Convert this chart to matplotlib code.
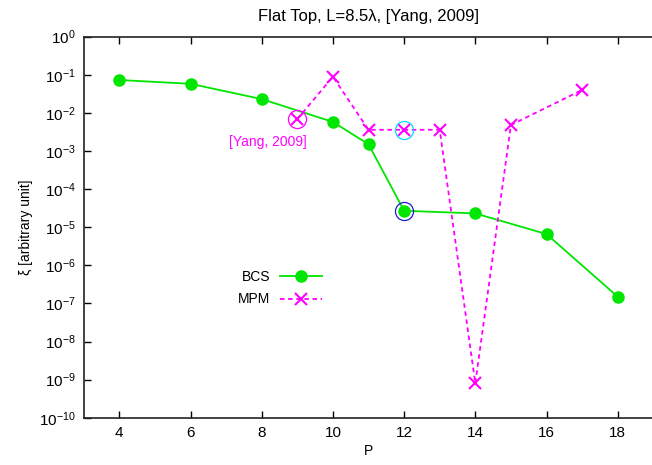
import matplotlib
matplotlib.use("Agg")
import matplotlib.pyplot as plt

plt.rcParams['font.family'] = ['Liberation Sans', 'DejaVu Sans']
plt.rcParams['mathtext.fontset'] = 'custom'
plt.rcParams['mathtext.rm'] = 'Liberation Sans'
plt.rcParams['mathtext.it'] = 'Liberation Sans'
plt.rcParams['font.size'] = 10

# BCS and MPM error versus P
bcs_p = [4, 6, 8, 10, 11, 12, 14, 16, 18]
bcs_xi = [0.073, 0.058, 0.023, 5.8e-3, 1.5e-3, 2.7e-5, 2.3e-5, 6.6e-6, 1.5e-7]

mpm_p = [9, 10, 11, 12, 13, 14, 15, 17]
mpm_xi = [6.9e-3, 0.089, 3.6e-3, 3.6e-3, 3.6e-3, 8.0e-10, 4.8e-3, 0.040]

# highlighted points
yang_p, yang_xi = 9, 6.9e-3
mpm_best_p, mpm_best_xi = 12, 3.6e-3
bcs_best_p, bcs_best_xi = 12, 2.7e-5

xticks = [4, 6, 8, 10, 12, 14, 16, 18]
yticks = [10.0 ** k for k in range(0, -11, -1)]
ytick_labels = ['$10^{%d}$' % k for k in range(0, -11, -1)]

fig = plt.figure(figsize=(6.52, 4.65), dpi=100)
ax = fig.add_axes([0.1284, 0.1017, 0.8736, 0.8194])

ax.plot(bcs_p, bcs_xi, color='#00e600', lw=1.3, marker='o', ms=8,
        label='BCS')
ax.plot(mpm_p, mpm_xi, color='#ff00ff', lw=1.3, ls=(0, (2.5, 2)), marker='x',
        ms=9, mew=1.5, label='MPM')

ax.plot([yang_p], [yang_xi], 'o', ms=13, mfc='none', mec='#ff00ff', mew=0.9)
ax.plot([mpm_best_p], [mpm_best_xi], 'o', ms=13, mfc='none', mec='#00ddff',
        mew=0.9)
ax.plot([bcs_best_p], [bcs_best_xi], 'o', ms=13, mfc='none', mec='#1a1acc',
        mew=0.9)
ax.text(8.16, 1.75e-3, '[Yang, 2009]', color='#ff00ff', ha='center',
        va='center')

ax.set_yscale('log')
ax.set_xlim(3, 19)
ax.set_ylim(1e-10, 1)
ax.set_xticks(xticks)
ax.set_yticks(yticks)
ax.set_yticklabels(ytick_labels)
ax.minorticks_off()
ax.tick_params(direction='in', length=5, width=1, top=True, right=False,
               labelsize=11)
ax.tick_params(axis='x', pad=6)
ax.tick_params(axis='y', pad=6)
for s in ax.spines.values():
    s.set_linewidth(1.2)
    s.set_color('#222222')
ax.spines['right'].set_visible(False)

ax.set_title('Flat Top, L=8.5λ, [Yang, 2009]', pad=11.5)
ax.set_xlabel('P', labelpad=3)
ax.set_ylabel('ξ [arbitrary unit]', labelpad=4)

leg = ax.legend(loc='center', bbox_to_anchor=(0.3446, 0.3396),
                markerfirst=False, frameon=False, borderpad=0,
                handlelength=3.0, handletextpad=0.7, labelspacing=0.6)

fig.savefig('out.png', dpi=100)
